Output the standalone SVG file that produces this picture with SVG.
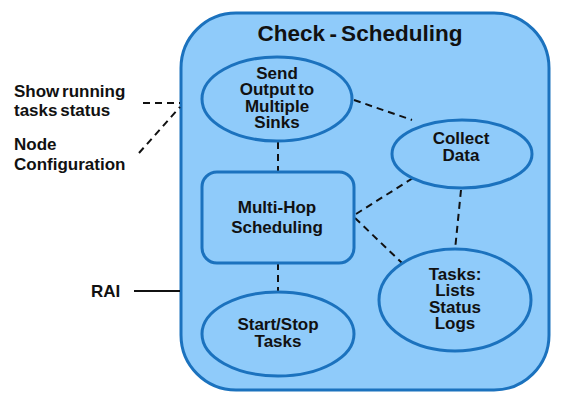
<svg xmlns="http://www.w3.org/2000/svg" width="564" height="407" viewBox="0 0 564 407">
<style>
.shape{fill:#8FCBFA;stroke:#1B72BE;stroke-width:3}
.t{font-family:"Liberation Sans",Arial,sans-serif;font-weight:bold;font-size:17px;fill:#111;word-spacing:-2px}
.c{text-anchor:middle}
.d{stroke:#111;stroke-width:2;stroke-dasharray:7,5;fill:none}
.s{stroke:#111;stroke-width:2;fill:none}
</style>
<rect width="564" height="407" fill="#fff"/>
<g id="container">
<rect class="shape" x="181" y="13" width="368" height="377" rx="55" ry="55"/>
<text class="t c" x="360" y="41" style="font-size:22.5px">Check - Scheduling</text>
</g>
<g id="connectors">
<line class="d" x1="143" y1="103" x2="180" y2="103"/>
<line class="d" x1="139" y1="153" x2="180" y2="107"/>
<line class="s" x1="134" y1="291" x2="180" y2="291"/>
<line class="d" x1="354" y1="100" x2="412" y2="120"/>
<line class="d" x1="278" y1="142" x2="278" y2="172"/>
<line class="d" x1="356" y1="214" x2="413" y2="178"/>
<line class="d" x1="355" y1="218" x2="402" y2="263"/>
<line class="d" x1="461" y1="190" x2="455" y2="250"/>
<line class="d" x1="278" y1="263" x2="278" y2="292"/>
</g>
<g id="label-show">
<text class="t" x="14" y="97">Show running</text>
<text class="t" x="14" y="116">tasks status</text>
</g>
<g id="label-node">
<text class="t" x="14" y="150">Node</text>
<text class="t" x="14" y="170">Configuration</text>
</g>
<g id="label-rai">
<text class="t" x="91" y="297">RAI</text>
</g>
<g id="send-output">
<ellipse class="shape" cx="277" cy="99" rx="75" ry="42"/>
<text class="t c" x="277" y="79">Send</text>
<text class="t c" x="277" y="95">Output to</text>
<text class="t c" x="277" y="112">Multiple</text>
<text class="t c" x="277" y="128">Sinks</text>
</g>
<g id="collect-data">
<ellipse class="shape" cx="462" cy="154" rx="70" ry="34"/>
<text class="t c" x="461" y="144">Collect</text>
<text class="t c" x="461" y="161">Data</text>
</g>
<g id="multi-hop">
<rect class="shape" x="202" y="172" width="152" height="91" rx="15" ry="15"/>
<text class="t c" x="277" y="213">Multi-Hop</text>
<text class="t c" x="277" y="233">Scheduling</text>
</g>
<g id="start-stop">
<ellipse class="shape" cx="278" cy="334" rx="76" ry="42"/>
<text class="t c" x="278" y="330">Start/Stop</text>
<text class="t c" x="278" y="347">Tasks</text>
</g>
<g id="tasks">
<ellipse class="shape" cx="455" cy="300" rx="76" ry="51"/>
<text class="t c" x="455" y="280">Tasks:</text>
<text class="t c" x="455" y="296">Lists</text>
<text class="t c" x="455" y="313">Status</text>
<text class="t c" x="455" y="329">Logs</text>
</g>
</svg>
